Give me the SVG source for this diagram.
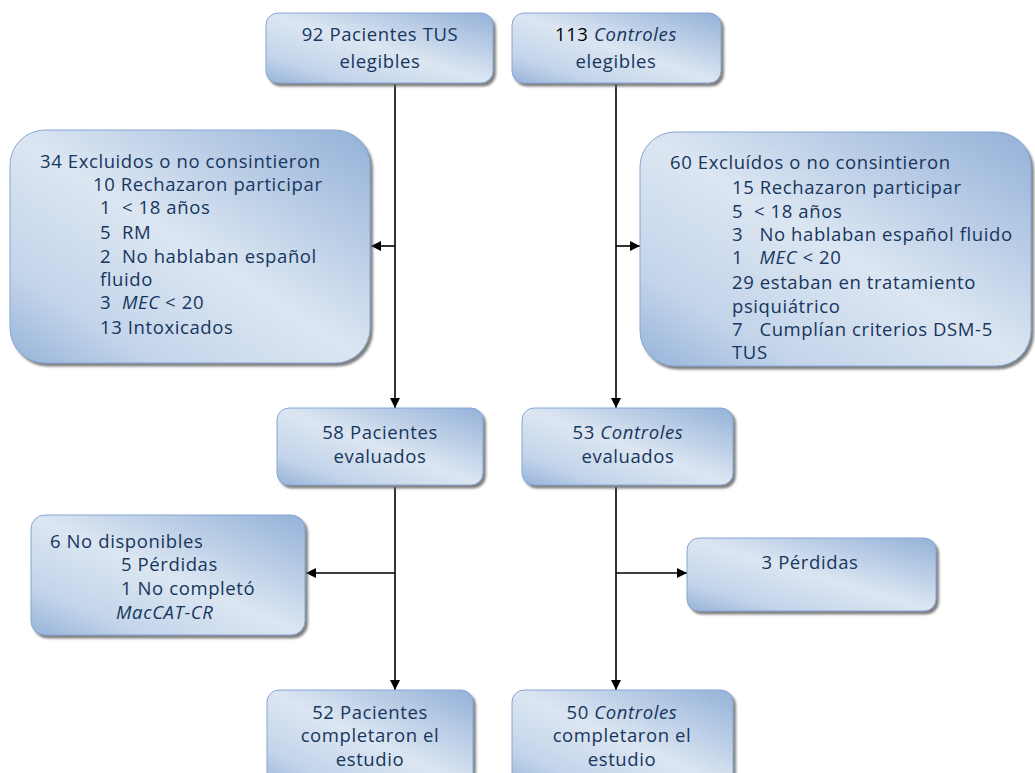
<svg xmlns="http://www.w3.org/2000/svg" width="1035" height="773" viewBox="0 0 1035 773">
<defs>
<linearGradient id="g" x1="1" y1="0" x2="0" y2="1">
<stop offset="0" stop-color="#93b1d8"/>
<stop offset="0.5" stop-color="#dce6f2"/>
<stop offset="0.8" stop-color="#c3d4ea"/>
<stop offset="1" stop-color="#95b3d9"/>
</linearGradient>
<filter id="sh" x="-5%" y="-5%" width="115%" height="120%">
<feDropShadow dx="2.5" dy="3" stdDeviation="1" flood-color="#6a6a6a" flood-opacity="0.85"/>
</filter>
<marker id="ah" viewBox="0 0 10 10" refX="10" refY="5" markerWidth="10" markerHeight="10" markerUnits="userSpaceOnUse" orient="auto">
<path d="M0,0 L10,5 L0,10 Z" fill="#000"/>
</marker>
</defs>
<style>
.box{fill:url(#g);stroke:#86a6d2;stroke-width:1;filter:url(#sh)}
text{font-family:"Open Sans","DejaVu Sans",sans-serif;font-size:18.5px;letter-spacing:0.6px;fill:#17365d;white-space:pre}
.c{text-anchor:middle}
.i{font-style:italic}
.k{fill:#000}
.ln{stroke:#000;stroke-width:1.6;fill:none;marker-end:url(#ah)}
</style>

<g id="connectors">
<line class="ln" x1="395" y1="84" x2="395" y2="408"/>
<line class="ln" x1="395" y1="246" x2="371" y2="246"/>
<line class="ln" x1="395" y1="487" x2="395" y2="690"/>
<line class="ln" x1="395" y1="573" x2="306" y2="573"/>
<line class="ln" x1="616" y1="84" x2="616" y2="408"/>
<line class="ln" x1="616" y1="246" x2="640" y2="246"/>
<line class="ln" x1="616" y1="487" x2="616" y2="690"/>
<line class="ln" x1="616" y1="573" x2="687" y2="573"/>
</g>

<g id="n1">
<rect class="box" x="266" y="13" width="227" height="70" rx="12"/>
<text class="c" x="380" y="41">92 Pacientes TUS</text>
<text class="c" x="380" y="68">elegibles</text>
</g>

<g id="n2">
<rect class="box" x="512" y="13" width="209" height="70" rx="12"/>
<text class="c" x="616" y="41"><tspan class="k">113</tspan> <tspan class="i">Controles</tspan></text>
<text class="c" x="616" y="68">elegibles</text>
</g>

<g id="n3">
<rect class="box" x="10" y="130" width="360" height="233" rx="35"/>
<text x="40" y="168">34 Excluidos o no consintieron</text>
<text x="93" y="191">10 Rechazaron participar</text>
<text x="100" y="214">1  &lt; 18 años</text>
<text x="100" y="239">5  RM</text>
<text x="100" y="263">2  No hablaban español</text>
<text x="100" y="286">fluido</text>
<text x="100" y="309">3  <tspan class="i">MEC</tspan> &lt; 20</text>
<text x="100" y="334">13 Intoxicados</text>
</g>

<g id="n4">
<rect class="box" x="640" y="132" width="391" height="234" rx="35"/>
<text x="670" y="169">60 Excluídos o no consintieron</text>
<text x="732" y="194">15 Rechazaron participar</text>
<text x="732" y="218">5  &lt; 18 años</text>
<text x="732" y="241">3   No hablaban español fluido</text>
<text x="732" y="264">1   <tspan class="i">MEC</tspan> &lt; 20</text>
<text x="732" y="289">29 estaban en tratamiento</text>
<text x="732" y="313">psiquiátrico</text>
<text x="732" y="336">7   Cumplían criterios DSM-5</text>
<text x="732" y="359">TUS</text>
</g>

<g id="n5">
<rect class="box" x="277" y="408" width="206" height="77" rx="12"/>
<text class="c" x="380" y="439">58 Pacientes</text>
<text class="c" x="380" y="463">evaluados</text>
</g>

<g id="n6">
<rect class="box" x="522" y="408" width="211" height="77" rx="12"/>
<text class="c" x="628" y="439">53 <tspan class="i">Controles</tspan></text>
<text class="c" x="628" y="463">evaluados</text>
</g>

<g id="n7">
<rect class="box" x="31" y="515" width="274" height="120" rx="14"/>
<text x="50" y="548">6 No disponibles</text>
<text x="121" y="571">5 Pérdidas</text>
<text x="121" y="595">1 No completó</text>
<text x="116" y="619" class="i">MacCAT-CR</text>
</g>

<g id="n8">
<rect class="box" x="687" y="538" width="249" height="73" rx="12"/>
<text class="c" x="810" y="569">3 Pérdidas</text>
</g>

<g id="n9">
<rect class="box" x="267" y="690" width="206" height="100" rx="12"/>
<text class="c" x="370" y="719">52 Pacientes</text>
<text class="c" x="370" y="742">completaron el</text>
<text class="c" x="370" y="766">estudio</text>
</g>

<g id="n10">
<rect class="box" x="512" y="690" width="221" height="100" rx="12"/>
<text class="c" x="622" y="719">50 <tspan class="i">Controles</tspan></text>
<text class="c" x="622" y="742">completaron el</text>
<text class="c" x="622" y="766">estudio</text>
</g>
</svg>
